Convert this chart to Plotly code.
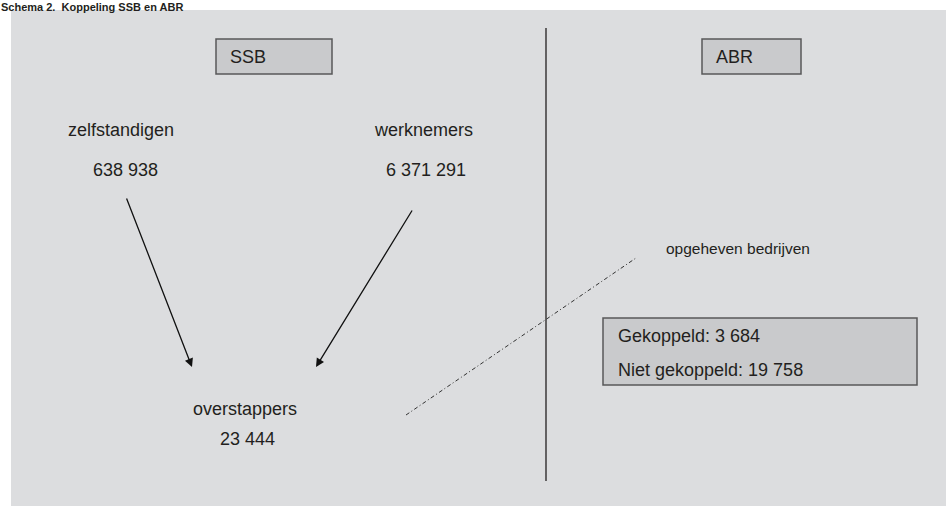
import plotly.graph_objects as go

# ---- data ----
title_text = "Schema 2.  Koppeling SSB en ABR"
register_labels = ["SSB", "ABR"]
source_labels = ["zelfstandigen", "werknemers"]
source_values = [638938, 6371291]
target_label = "overstappers"
target_value = 23444
abr_label = "opgeheven bedrijven"
link_labels = ["Gekoppeld", "Niet gekoppeld"]
link_values = [3684, 19758]


def fmt(v):
    return f"{v:,}".replace(",", " ")


# ---- layout (pixel coordinates of the diagram) ----
W, H = 946, 506
FONT = "Liberation Sans, Arial, Helvetica, sans-serif"
TXT = "#231f20"
FS = 18
PANEL = "#dcdddf"
BOXFILL = "#c9cacc"
BOXLINE = "#58585a"

register_boxes = [(216, 39, 332, 74), (702, 39, 801, 74)]
register_text_x = [228, 714]
source_label_pos = [(121, 130), (423, 130)]
source_value_pos = [(125, 170), (426, 170)]
arrow_tails = [(126, 197), (413, 209)]
arrow_tips = [(192, 367), (316, 367)]
target_label_pos = (245, 409)
target_value_pos = (247, 439)
divider = (546, 28, 481)
dash_line = (406, 415, 636, 258)
abr_label_pos = (664, 248)
info_box = (603, 318, 917, 385)
info_text_x = 616
info_text_y = [336, 370]

fig = go.Figure()
shapes = []
annotations = []

# background panel
shapes.append(dict(type="rect", x0=11, y0=10, x1=W + 20, y1=H + 20,
                   fillcolor=PANEL, line=dict(width=0), layer="below"))

# register boxes
for (x0, y0, x1, y1), lab, tx in zip(register_boxes, register_labels, register_text_x):
    shapes.append(dict(type="rect", x0=x0, y0=y0, x1=x1, y1=y1,
                       fillcolor=BOXFILL, line=dict(color=BOXLINE, width=1.5)))
    annotations.append(dict(x=tx, y=(y0 + y1) / 2, text=lab, showarrow=False,
                            xanchor="left", yanchor="middle",
                            font=dict(family=FONT, size=FS, color=TXT)))

# divider
shapes.append(dict(type="line", x0=divider[0], x1=divider[0], y0=divider[1], y1=divider[2],
                   line=dict(color="#231f20", width=1.3)))

# dash-dot link
shapes.append(dict(type="line", x0=dash_line[0], y0=dash_line[1], x1=dash_line[2], y1=dash_line[3],
                   line=dict(color="#333333", width=1, dash="4px,2.5px,1px,2.5px")))

# info box
shapes.append(dict(type="rect", x0=info_box[0], y0=info_box[1], x1=info_box[2], y1=info_box[3],
                   fillcolor=BOXFILL, line=dict(color=BOXLINE, width=1.5)))
for lab, val, ty in zip(link_labels, link_values, info_text_y):
    annotations.append(dict(x=info_text_x, y=ty, text=f"{lab}: {fmt(val)}", showarrow=False,
                            xanchor="left", yanchor="middle",
                            font=dict(family=FONT, size=FS, color=TXT)))

# sources
for lab, val, lp, vp in zip(source_labels, source_values, source_label_pos, source_value_pos):
    annotations.append(dict(x=lp[0], y=lp[1], text=lab, showarrow=False,
                            xanchor="center", yanchor="middle",
                            font=dict(family=FONT, size=FS, color=TXT)))
    annotations.append(dict(x=vp[0], y=vp[1], text=fmt(val), showarrow=False,
                            xanchor="center", yanchor="middle",
                            font=dict(family=FONT, size=FS, color=TXT)))

# arrows
for (tx, ty), (hx, hy) in zip(arrow_tails, arrow_tips):
    annotations.append(dict(x=hx, y=hy, ax=tx, ay=ty, axref="x", ayref="y", xref="x", yref="y",
                            text="", showarrow=True, arrowhead=2, arrowsize=1.3,
                            arrowwidth=1.3, arrowcolor="#111111", standoff=0))

# target
annotations.append(dict(x=target_label_pos[0], y=target_label_pos[1], text=target_label,
                        showarrow=False, xanchor="center", yanchor="middle",
                        font=dict(family=FONT, size=FS, color=TXT)))
annotations.append(dict(x=target_value_pos[0], y=target_value_pos[1], text=fmt(target_value),
                        showarrow=False, xanchor="center", yanchor="middle",
                        font=dict(family=FONT, size=FS, color=TXT)))

# ABR side label
annotations.append(dict(x=abr_label_pos[0], y=abr_label_pos[1], text=abr_label,
                        showarrow=False, xanchor="left", yanchor="middle",
                        font=dict(family=FONT, size=15.5, color=TXT)))

# title (kept fully visible in the strip above the panel)
annotations.append(dict(x=0, y=0, text=f"<b>{title_text}</b>", showarrow=False,
                        xanchor="left", yanchor="top", borderpad=0,
                        font=dict(family=FONT, size=11, color=TXT)))

for a in annotations:
    a.setdefault("xref", "x")
    a.setdefault("yref", "y")

fig.update_layout(
    width=W, height=H,
    margin=dict(l=0, r=0, t=0, b=0),
    paper_bgcolor="white", plot_bgcolor="white",
    xaxis=dict(range=[0, W], visible=False, fixedrange=True),
    yaxis=dict(range=[H, 0], visible=False, fixedrange=True),
    shapes=shapes, annotations=annotations,
    showlegend=False,
)

fig.write_html("out.html", config={"displayModeBar": False},
               post_script="document.body.style.margin='0';document.body.style.overflow='hidden';")
